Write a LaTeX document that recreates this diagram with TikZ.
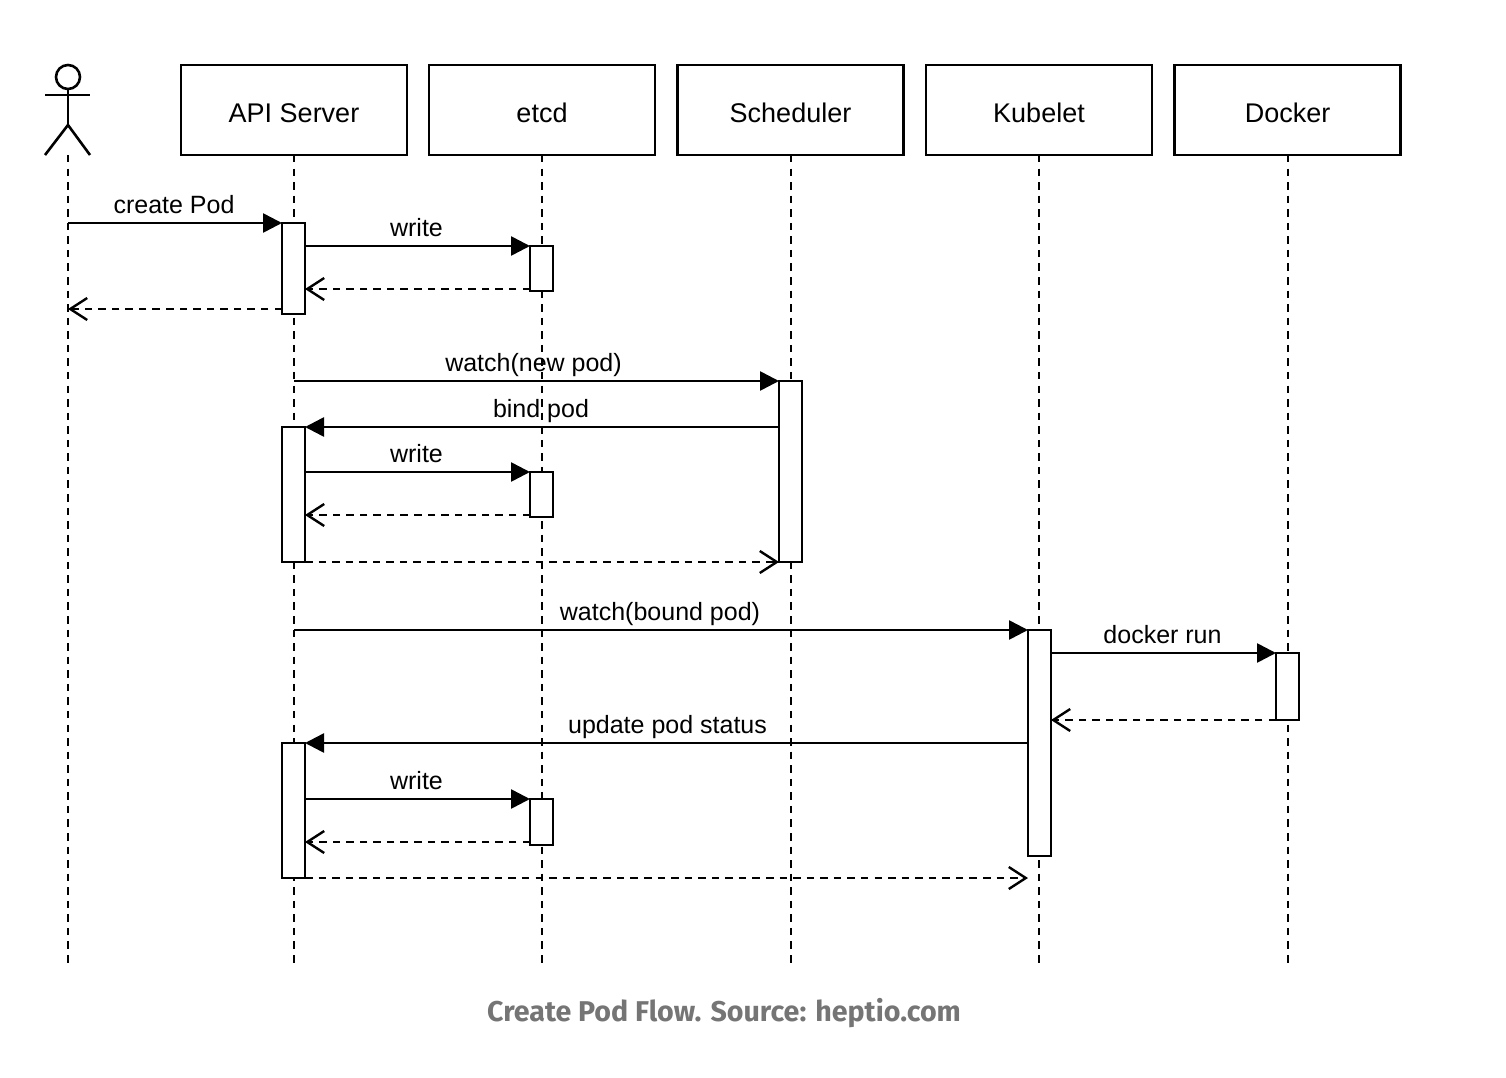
\documentclass[tikz,border=0pt]{standalone}
\usepackage{fontspec}
\setmainfont{Liberation Sans}
\newfontfamily\capfont{Fira Sans}
\usetikzlibrary{arrows.meta}
\definecolor{capgray}{HTML}{757575}
\newcommand{\parttext}[1]{\raisebox{-12.5pt}[0pt][0pt]{#1}}
\tikzset{
  base/.style={line width=2.6pt,draw=black},
  part/.style={base,fill=white,minimum width=226pt,minimum height=90pt,inner sep=0pt,outer sep=0pt,font=\fontsize{27}{32}\selectfont},
  act/.style={base,fill=white,minimum width=23pt,inner sep=0pt,outer sep=0pt},
  life/.style={line width=2.4pt,dash pattern=on 7.5pt off 6.06pt},
  msg/.style={line width=2.6pt,-{Triangle[length=19pt,width=19pt]}},
  ret/.style={line width=2.4pt,dash pattern=on 7.5pt off 6.06pt,-{Straight Barb[length=17pt,width=22pt,line width=2.4pt]}},
  lbl/.style={midway,anchor=base,yshift=10pt,xshift=-1pt,inner sep=0pt,font=\fontsize{25}{30}\selectfont},
}
\begin{document}
\begin{tikzpicture}[x=1pt,y=-1pt]
\useasboundingbox (0,0) rectangle (1506,1078);
% participants
\node[part] (api) at (294,110) {\parttext{API Server}};
\node[part] (etcd) at (542,110) {\parttext{etcd}};
\node[part] (sched) at (790.5,110) {\parttext{Scheduler}};
\node[part] (kube) at (1039,110) {\parttext{Kubelet}};
\node[part] (dock) at (1287.5,110) {\parttext{Docker}};
% actor
\node[base,circle,minimum size=24pt,inner sep=0pt,outer sep=0pt] (head) at (68,77) {};
\coordinate (hip) at (68,125);
\coordinate (foot) at (68,155);
\coordinate (bottom) at (0,962.5);
\draw[base] (head.south) -- (hip);
\draw[base] (45,95) -- (90,95);
\draw[base,line join=round] (45,155) -- (hip) -- (90,155);
% lifelines
\coordinate (ls) at (791,155);
\coordinate (ld) at (1288,155);
\draw[life] (foot) -- (foot |- bottom);
\draw[life] (api.south) -- (api |- bottom);
\draw[life] (etcd.south) -- (etcd |- bottom);
\draw[life] (ls) -- (ls |- bottom);
\draw[life] (kube.south) -- (kube |- bottom);
\draw[life] (ld) -- (ld |- bottom);
% activations
\node[act,minimum height=91pt] (a1) at (293.5,268.5) {};
\node[act,minimum height=45pt] (e1) at (541.5,268.5) {};
\node[act,minimum height=181pt] (s1) at (790.5,471.5) {};
\node[act,minimum height=135pt] (a2) at (293.5,494.5) {};
\node[act,minimum height=45pt] (e2) at (541.5,494.5) {};
\node[act,minimum height=135pt] (a3) at (293.5,810.5) {};
\node[act,minimum height=46pt] (e3) at (541.5,822) {};
\node[act,minimum height=226pt] (k1) at (1039.5,743) {};
\node[act,minimum height=67pt] (d1) at (1287.5,686.5) {};
% message levels
\coordinate (y1) at (0,223);
\coordinate (y2) at (0,246);
\coordinate (y3) at (0,289);
\coordinate (y4) at (0,309);
\coordinate (y5) at (0,381);
\coordinate (y6) at (0,427);
\coordinate (y7) at (0,472);
\coordinate (y8) at (0,515);
\coordinate (y9) at (0,562);
\coordinate (y10) at (0,630);
\coordinate (y11) at (0,653);
\coordinate (y12) at (0,720);
\coordinate (y13) at (0,743);
\coordinate (y14) at (0,799);
\coordinate (y15) at (0,842);
\coordinate (y16) at (0,878);
% messages
\draw[msg] (foot |- y1) -- (a1.west |- y1) node[lbl] (m1) {create Pod};
\draw[msg] (a1.east |- y2) -- (e1.west |- y2) node[lbl] (m2) {write};
\draw[ret] (e1.west |- y3) -- (a1.east |- y3);
\draw[ret] (a1.west |- y4) -- (foot |- y4);
\draw[msg] (api.south |- y5) -- (s1.west |- y5) node[lbl,xshift=-2pt] (m3) {watch(new pod)};
\draw[msg] (s1.west |- y6) -- (a2.east |- y6) node[lbl] (m4) {bind pod};
\draw[msg] (a2.east |- y7) -- (e2.west |- y7) node[lbl] (m5) {write};
\draw[ret] (e2.west |- y8) -- (a2.east |- y8);
\draw[ret] (a2.east |- y9) -- (s1.west |- y9);
\draw[msg] (api.south |- y10) -- (k1.west |- y10) node[lbl] (m6) {watch(bound pod)};
\draw[msg] (k1.east |- y11) -- (d1.west |- y11) node[lbl] (m7) {docker run};
\draw[ret] (d1.west |- y12) -- (k1.east |- y12);
\draw[msg] (k1.west |- y13) -- (a3.east |- y13) node[lbl,xshift=2pt] (m8) {update pod status};
\draw[msg] (a3.east |- y14) -- (e3.west |- y14) node[lbl] (m9) {write};
\draw[ret] (e3.west |- y15) -- (a3.east |- y15);
\draw[ret] (a3.east |- y16) -- (k1.west |- y16);
% caption
\node[inner sep=0pt,text=capgray,font=\capfont\bfseries\fontsize{28.6}{34}\selectfont] (cap) at (724,1013) {Create Pod Flow. Source: heptio.com};
\end{tikzpicture}
\end{document}
